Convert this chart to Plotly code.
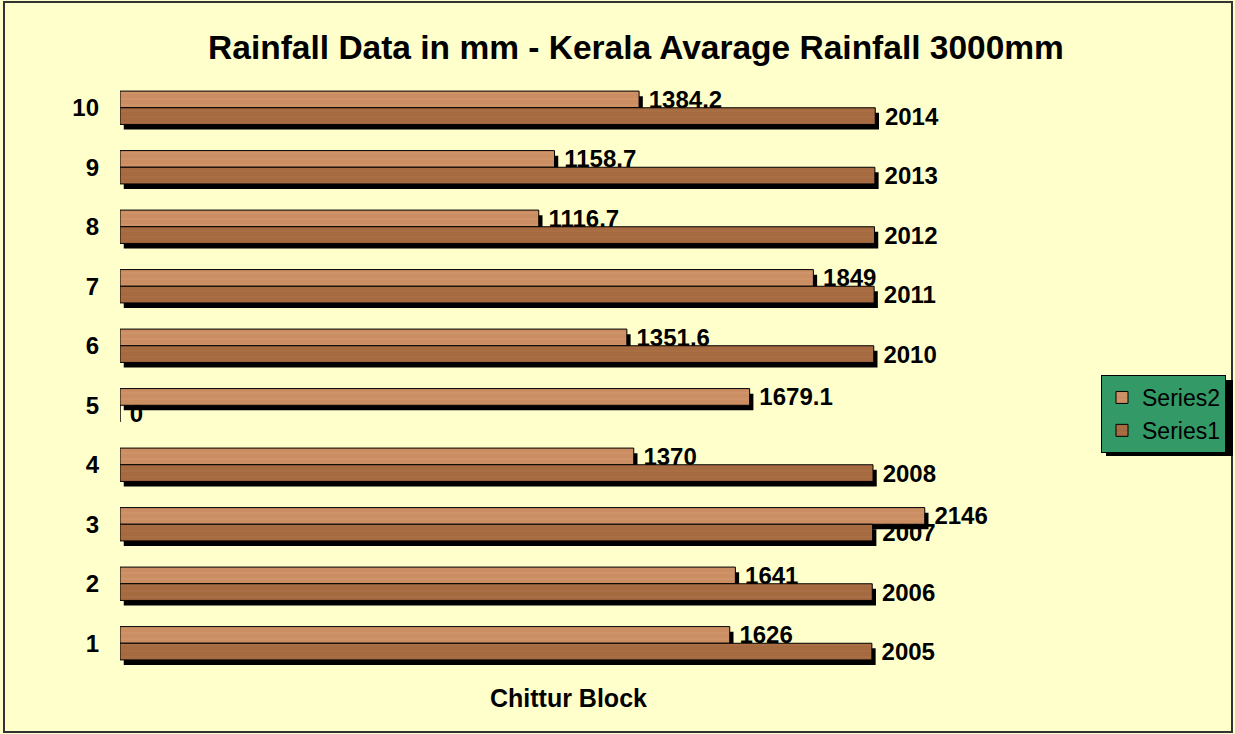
import plotly.graph_objects as go

categories = [1, 2, 3, 4, 5, 6, 7, 8, 9, 10]
series1 = [2005, 2006, 2007, 2008, 0, 2010, 2011, 2012, 2013, 2014]
series2 = [1626, 1641, 2146, 1370, 1679.1, 1351.6, 1849, 1116.7, 1158.7, 1384.2]
series1_labels = ["2005", "2006", "2007", "2008", "0", "2010", "2011", "2012", "2013", "2014"]
series2_labels = ["1626", "1641", "2146", "1370", "1679.1", "1351.6", "1849", "1116.7", "1158.7", "1384.2"]

FONT = "Liberation Sans, Arial, sans-serif"
BG = "#FFFFCC"
LIGHT_WOOD = "#CB8E62"
DARK_WOOD = "#A66A41"
BAR_W = 0.28
SH_X = 10      # shadow shift along value axis (data units)
SH_Y = 0.085   # shadow shift along category axis

W, H = 1235, 734
L, R, T, B = 120, 179, 78, 61
PW, PH = W - L - R, H - T - B


def px_x(p):
    return (p - L) / PW


def px_y(p):
    return (H - B - p) / PH


fig = go.Figure()

# shadow + bar for Series2 (upper bar of each pair)
fig.add_trace(go.Bar(
    y=categories, x=series2, base=SH_X, orientation="h",
    offset=-SH_Y, width=BAR_W, marker=dict(color="black", line=dict(width=0)),
    showlegend=False, hoverinfo="skip",
))
fig.add_trace(go.Bar(
    y=categories, x=series2, orientation="h", name="Series2",
    offset=0, width=BAR_W,
    marker=dict(color=LIGHT_WOOD, line=dict(color="black", width=1),
                pattern=dict(shape="-", fgcolor="#D9A57C", size=6, solidity=0.15)),
    text=[" " + t for t in series2_labels], textposition="outside",
    cliponaxis=False, constraintext="none",
    textfont=dict(family=FONT, size=24, color="black", weight="bold"),
))
# shadow + bar for Series1 (lower bar)
fig.add_trace(go.Bar(
    y=categories, x=series1, base=SH_X, orientation="h",
    offset=-BAR_W - SH_Y, width=BAR_W, marker=dict(color="black", line=dict(width=0)),
    showlegend=False, hoverinfo="skip",
))
fig.add_trace(go.Bar(
    y=categories, x=series1, orientation="h", name="Series1",
    offset=-BAR_W, width=BAR_W,
    marker=dict(color=DARK_WOOD, line=dict(color="black", width=1),
                pattern=dict(shape="-", fgcolor="#B47A50", size=6, solidity=0.15)),
    text=[" " + t for t in series1_labels], textposition="outside",
    cliponaxis=False, constraintext="none",
    textfont=dict(family=FONT, size=24, color="black", weight="bold"),
))

# outer chart border
fig.add_shape(type="rect", xref="paper", yref="paper",
              x0=px_x(4), x1=px_x(1232), y0=px_y(732), y1=px_y(2),
              line=dict(color="#333333", width=2), layer="below")
# legend shadow
fig.add_shape(type="rect", xref="paper", yref="paper",
              x0=px_x(1106), x1=px_x(1233), y0=px_y(456), y1=px_y(380),
              fillcolor="black", line=dict(width=0))

fig.add_annotation(text="Chittur Block", xref="paper", yref="paper",
                   x=px_x(568), y=px_y(698), xanchor="center", yanchor="middle",
                   showarrow=False,
                   font=dict(family=FONT, size=25, color="black", weight="bold"))

fig.update_layout(
    width=W, height=H,
    margin=dict(l=L, r=R, t=T, b=B, autoexpand=False),
    paper_bgcolor=BG, plot_bgcolor=BG,
    barmode="overlay",
    title=dict(text="Rainfall Data in mm - Kerala Avarage Rainfall 3000mm",
               x=636 / W, xanchor="center", y=1 - 47 / H, yanchor="middle",
               font=dict(family=FONT, size=33.5, color="black", weight="bold")),
    xaxis=dict(range=[0, 2496], showticklabels=False, showgrid=False,
               zeroline=False, showline=False),
    yaxis=dict(range=[0.5, 10.5], tickvals=categories, showgrid=False,
               zeroline=False, showline=False, ticklabelstandoff=20,
               tickfont=dict(family=FONT, size=24, color="black", weight="bold")),
    legend=dict(x=px_x(1101), y=px_y(375), xanchor="left", yanchor="top",
                bgcolor="#339966", bordercolor="black", borderwidth=1,
                traceorder="normal", itemwidth=30,
                font=dict(family=FONT, size=23, color="black")),
    showlegend=True,
)

fig.write_html(
    "out.html",
    config={"displayModeBar": False},
    post_script="document.body.style.margin='0';document.body.style.overflow='hidden';",
)
